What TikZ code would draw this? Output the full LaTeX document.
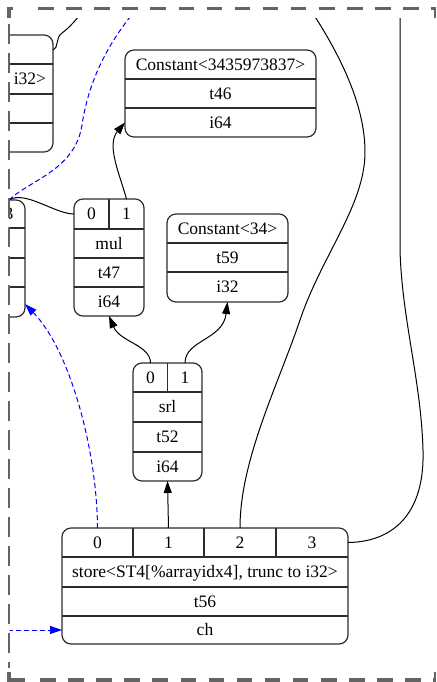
\documentclass[tikz,border=0pt]{standalone}
\usepackage{fontspec}
\setmainfont{Liberation Serif}
\usetikzlibrary{arrows.meta}
\definecolor{framegray}{RGB}{100,100,100}
\definecolor{boxline}{RGB}{45,45,45}
\begin{document}
\begin{tikzpicture}[x=1pt,y=-1pt,
  rec/.style={draw=boxline, line width=1.2pt, rounded corners=9pt, inner sep=0pt, outer sep=0pt},
  sep/.style={draw=boxline, line width=1.2pt},
  txt/.style={inner sep=0pt, outer sep=0pt, text height=11.5pt, text depth=0pt, font=\fontsize{17.5}{20}\selectfont},
  wire/.style={draw=black, line width=1pt},
  tip/.style={-{Triangle[length=12pt,width=8pt]}},
  dep/.style={draw=blue, line width=1pt, dash pattern=on 5pt off 3pt},
  deptip/.style={-{Triangle[length=12pt,width=8pt,fill=blue]}},
  fthick/.style={draw=framegray, line width=3.2pt},
  fthin/.style={draw=framegray, line width=1.3pt}]
\useasboundingbox (0,0) rectangle (436,682);

\begin{scope}
\clip (9.5,19) rectangle (436,675);

% ---------- partly hidden node, top left ----------
\node[rec, minimum width=113pt, minimum height=117pt] (tl) at (-3.5,93.5) {};
\foreach \yy in {64,94,123} \draw[sep] (tl.west |- 0,\yy) -- (tl.east |- 0,\yy);
\node[txt, anchor=east] (tl-op) at (46,79) {i32>};

% ---------- partly hidden node, left ----------
\node[rec, minimum width=85pt, minimum height=117pt] (ln) at (-17.5,258.5) {};
\foreach \yy in {228,258,287} \draw[sep] (ln.west |- 0,\yy) -- (ln.east |- 0,\yy);
\node[txt] (ln-p3) at (9,213.5) {3};

% ---------- Constant<3435973837> ----------
\node[rec, minimum width=191pt, minimum height=87pt] (c46) at (220.5,93.5) {};
\foreach \yy in {79,108} \draw[sep] (c46.west |- 0,\yy) -- (c46.east |- 0,\yy);
\node[txt] (c46-op) at (220.5,64.5) {Constant<3435973837>};
\node[txt] (c46-id) at (220.5,93.5) {t46};
\node[txt] (c46-ty) at (220.5,122.5) {i64};

% ---------- Constant<34> ----------
\node[rec, minimum width=121pt, minimum height=88pt] (c59) at (227.5,258) {};
\foreach \yy in {243,272} \draw[sep] (c59.west |- 0,\yy) -- (c59.east |- 0,\yy);
\node[txt] (c59-op) at (227.5,228.5) {Constant<34>};
\node[txt] (c59-id) at (227.5,257.5) {t59};
\node[txt] (c59-ty) at (227.5,287) {i32};

% ---------- mul ----------
\node[rec, minimum width=70pt, minimum height=117pt] (mul) at (109,257.5) {};
\foreach \yy in {229,258,287} \draw[sep] (mul.west |- 0,\yy) -- (mul.east |- 0,\yy);
\draw[sep] (mul.north) -- (mul.north |- 0,229);
\node[txt] (mul-p0) at (91.5,214) {0};
\node[txt] (mul-p1) at (126.5,214) {1};
\node[txt] (mul-op) at (109,243.5) {mul};
\node[txt] (mul-id) at (109,272.5) {t47};
\node[txt] (mul-ty) at (109,301.5) {i64};

% ---------- srl ----------
\node[rec, minimum width=69pt, minimum height=118pt] (srl) at (167.5,422) {};
\foreach \yy in {392,422,452} \draw[sep] (srl.west |- 0,\yy) -- (srl.east |- 0,\yy);
\draw[sep] (srl.north) -- (srl.north |- 0,392);
\node[txt] (srl-p0) at (150.5,377.5) {0};
\node[txt] (srl-p1) at (185,377.5) {1};
\node[txt] (srl-op) at (167.5,407) {srl};
\node[txt] (srl-id) at (167.5,437) {t52};
\node[txt] (srl-ty) at (167.5,466.5) {i64};

% ---------- store ----------
\node[rec, minimum width=286pt, minimum height=116pt] (st) at (205,586) {};
\foreach \yy in {557,587,616} \draw[sep] (st.west |- 0,\yy) -- (st.east |- 0,\yy);
\foreach \xx in {133,204,276} \draw[sep] (\xx,528) -- (\xx,557);
\node[txt] (st-p0) at (97.5,542.5) {0};
\node[txt] (st-p1) at (168.5,542.5) {1};
\node[txt] (st-p2) at (240,542.5) {2};
\node[txt] (st-p3) at (312,542.5) {3};
\node[txt] (st-op) at (205,572) {store<ST4[\%arrayidx4], trunc to i32>};
\node[txt] (st-id) at (205,601.5) {t56};
\node[txt] (st-ch) at (205,630) {ch};

% ---------- free ends of edges leaving the view ----------
\coordinate (outA) at (84,10);
\coordinate (outB) at (140,5);
\coordinate (outC) at (312,12);
\coordinate (outD) at (400,5);
\coordinate (outE) at (0,630);

% ---------- data edges ----------
\draw[wire, tip] (st.north -| st-p1) -- (srl.south);
\draw[wire, tip] (srl.north -| srl-p0) .. controls (150.5,345) and (120,342) .. (mul.south);
\draw[wire, tip] (srl.north -| srl-p1) .. controls (185,340) and (223,340) .. (c59.south);
\draw[wire, tip] (mul.north -| mul-p1) .. controls (120,175) and (106,145) .. (c46.west |- c46-ty);
\draw[wire] (ln.north -| ln-p3) .. controls (25,190) and (55,214) .. (mul.west |- mul-p0);
\draw[wire] (tl.east |- 0,50) .. controls (59,48) and (55,38) .. (62,33) .. controls (69,28) and (76,20) .. (outA);
\draw[wire] (st.north -| st-p2) .. controls (240,460) and (278,385) .. (300,320)
  .. controls (322,255) and (365,205) .. (365,152)
  .. controls (365,105) and (340,55) .. (outC);
\draw[wire] (st.east |- st-p3) .. controls (392,542) and (425,515) .. (423,450)
  .. controls (421,380) and (402,320) .. (400,250) -- (outD);

% ---------- chain edges ----------
\draw[dep] (ln.north -| ln-p3) .. controls (30,180) and (75,170) .. (82,125)
  .. controls (88,85) and (105,45) .. (outB);
\draw[dep, deptip] (st.north -| st-p0) .. controls (97,450) and (70,350) .. (ln.-47);
\draw[dep, deptip] (outE) -- (st.west |- st-ch);
\end{scope}

% ---------- dashed frame ----------
\draw[fthick, dash pattern=on 15.5pt off 12.6pt] (38,8.5) -- (436,8.5);
\draw[fthick, dash pattern=on 15.5pt off 12.6pt] (40,680) -- (436,680);
\draw[fthick] (9,18) -- (9,8.5) -- (13,8.5);
\draw[fthick] (9,672) -- (9,680) -- (25,680);
\draw[fthin, dash pattern=on 20pt off 9pt] (9,24) -- (9,668);
\draw[fthin, line width=2pt] (434.5,8.5) -- (434.5,18);
\draw[fthin, line width=2pt] (434.5,672) -- (434.5,680);
\end{tikzpicture}
\end{document}
